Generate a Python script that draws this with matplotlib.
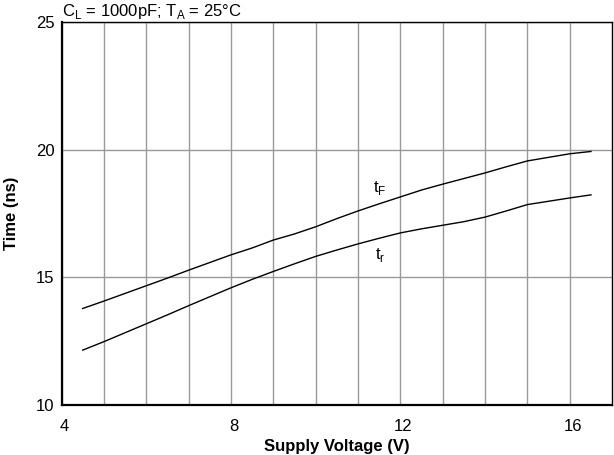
import matplotlib
matplotlib.use("Agg")
import matplotlib.pyplot as plt
from matplotlib.transforms import ScaledTranslation

# Data
voltage = [4.5, 5, 5.5, 6, 6.5, 7, 7.5, 8, 8.5, 9, 9.5, 10, 10.5, 11, 11.5,
           12, 12.5, 13, 13.5, 14, 14.5, 15, 15.5, 16, 16.5]
t_fall = [13.78, 14.07, 14.37, 14.67, 14.97, 15.28, 15.58, 15.88, 16.15, 16.46,
          16.70, 16.98, 17.30, 17.60, 17.88, 18.15, 18.42, 18.65, 18.87, 19.09,
          19.33, 19.56, 19.70, 19.84, 19.93]
t_rise = [12.15, 12.48, 12.83, 13.18, 13.53, 13.89, 14.24, 14.59, 14.92, 15.23,
          15.53, 15.82, 16.07, 16.31, 16.53, 16.74, 16.90, 17.04, 17.18, 17.36,
          17.60, 17.85, 17.98, 18.11, 18.23]
x_ticks = [4, 8, 12, 16]
y_ticks = [10, 15, 20, 25]

plt.rcParams['font.family'] = ['Liberation Sans', 'DejaVu Sans']
plt.rcParams['mathtext.fontset'] = 'custom'
plt.rcParams['mathtext.rm'] = 'Liberation Sans'

fig = plt.figure(figsize=(6.14, 4.55), dpi=100)
ax = fig.add_axes([0.1002, 0.1099, 0.8968, 0.8417])

ax.plot(voltage, t_fall, color='black', lw=1.0)
ax.plot(voltage, t_rise, color='black', lw=1.0)

ax.set_xlim(4, 17)
ax.set_ylim(10, 25)
ax.set_xticks(x_ticks)
ax.set_yticks(y_ticks)
ax.set_xticks(range(5, 17), minor=True)
ax.grid(True, which='both', axis='x', color='#999999', lw=1.0)
ax.grid(True, which='major', axis='y', color='#999999', lw=1.0)
ax.tick_params(which='both', length=0, labelsize=12)
ax.tick_params(axis='x', pad=10)
ax.tick_params(axis='y', pad=5)

off = ScaledTranslation(3 / 100, 0, fig.dpi_scale_trans)
for lab in ax.get_xticklabels():
    lab.set_transform(lab.get_transform() + off)

for s in ['left', 'bottom']:
    ax.spines[s].set_linewidth(1.6)
for s in ['top', 'right']:
    ax.spines[s].set_linewidth(1.0)

ax.set_xlabel('Supply Voltage (V)', fontsize=12, fontweight='bold', labelpad=4)
ax.set_ylabel('Time (ns)', fontsize=12, fontweight='bold', labelpad=12)

ax.text(0.0, 1.003, r'C$_\mathrm{L}$ = 1000pF; T$_\mathrm{A}$ = 25°C',
        transform=ax.transAxes, fontsize=12, ha='left', va='bottom')

ax.text(11.52, 18.5, r't$_\mathrm{F}$', fontsize=12, ha='center', va='center')
ax.text(11.52, 15.87, r't$_\mathrm{r}$', fontsize=12, ha='center', va='center')

fig.savefig('out.png', dpi=100)
